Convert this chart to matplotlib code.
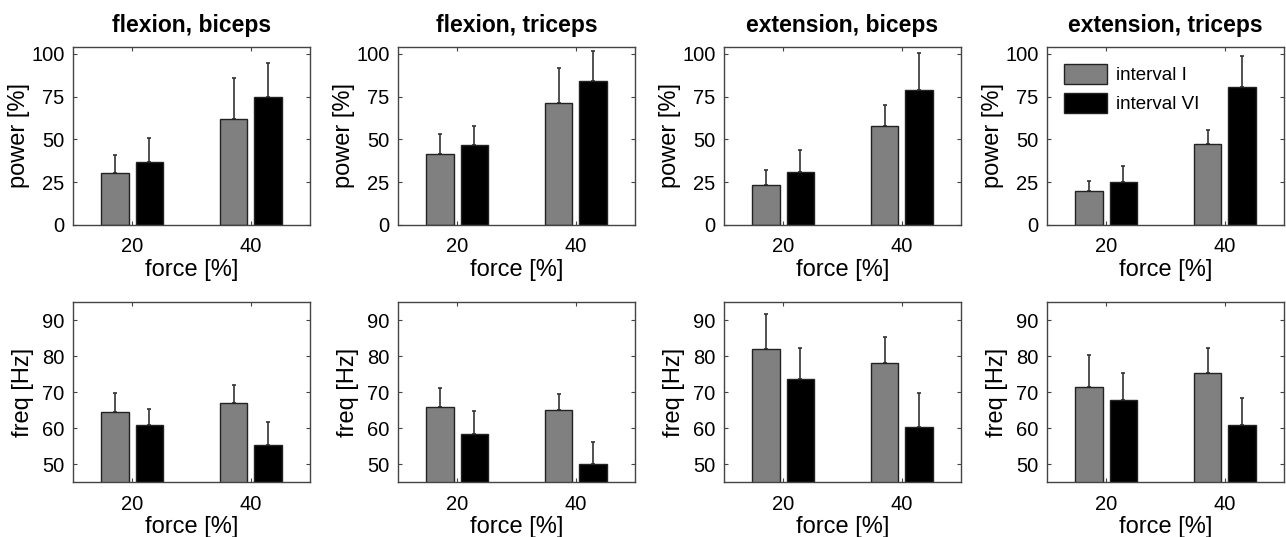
import numpy as np
import matplotlib
matplotlib.use("Agg")
import matplotlib.pyplot as plt

plt.rcParams['font.family'] = ['Liberation Sans', 'DejaVu Sans']

force = ["20", "40"]
titles = ["flexion, biceps", "flexion, triceps", "extension, biceps", "extension, triceps"]
series = ["interval I", "interval VI"]

# power [%] means and upper error bars, per panel: [interval I, interval VI] x [20, 40]
power_mean = [
    [[30.1, 62.1], [36.9, 74.5]],
    [[41.7, 71.5], [46.6, 84.3]],
    [[23.3, 57.7], [30.9, 78.8]],
    [[19.6, 47.6], [25.2, 80.8]],
]
power_sd = [
    [[10.7, 23.9], [14.0, 20.0]],
    [[11.3, 20.3], [11.4, 17.1]],
    [[8.7, 12.4], [12.8, 21.6]],
    [[6.0, 8.1], [9.2, 18.0]],
]
# freq [Hz]
freq_mean = [
    [[64.4, 67.0], [60.7, 55.3]],
    [[65.7, 65.1], [58.4, 50.1]],
    [[81.9, 78.1], [73.5, 60.4]],
    [[71.5, 75.2], [67.8, 60.9]],
]
freq_sd = [
    [[5.4, 5.0], [4.5, 6.4]],
    [[5.4, 4.4], [6.2, 5.9]],
    [[9.8, 7.3], [8.7, 9.3]],
    [[8.9, 6.9], [7.5, 7.4]],
]

colors = ['#808080', '#000000']
W, H = 1286, 537
fig = plt.figure(figsize=(W / 100, H / 100), dpi=100)

lefts = [73, 398, 724, 1047]
width = 237


def draw(ax, mean, sd, ylim, yticks, ylabel, ypad, legend=False):
    x = np.arange(1, len(force) + 1)
    bw = 0.23
    offs = [-0.145, 0.145]
    for k in range(2):
        ax.bar(x + offs[k], mean[k], bw, color=colors[k], edgecolor='#222222',
               linewidth=1, label=series[k], zorder=2)
        ax.errorbar(x + offs[k], mean[k], yerr=[np.zeros(len(x)), sd[k]], fmt='none',
                    ecolor='#333333', elinewidth=1.2, capsize=1.5, capthick=1.2, zorder=1)
    ax.set_xlim(0.5, 2.5)
    ax.set_ylim(*ylim)
    ax.set_xticks(x)
    ax.set_xticklabels(force)
    ax.set_yticks(yticks)
    ax.tick_params(direction='in', top=True, right=True, labelsize=14.5,
                   length=3, width=0.8, color='#444444', pad=6)
    ax.tick_params(axis='x', pad=9)
    for s in ax.spines.values():
        s.set_color('#444444')
        s.set_linewidth(1)
    ax.set_xlabel("force [%]", fontsize=17, labelpad=2)
    ax.set_ylabel(ylabel, fontsize=17, labelpad=ypad)
    if legend:
        ax.legend(loc='upper left', frameon=False, fontsize=13.5, handlelength=2.3,
                  handleheight=1.3, handletextpad=0.5, borderaxespad=0.5, labelspacing=0.45)


for i in range(4):
    ax = fig.add_axes([lefts[i] / W, 1 - 225 / H, width / W, 178 / H])
    draw(ax, power_mean[i], power_sd[i], (0, 104), [0, 25, 50, 75, 100], "power [%]", 1,
         legend=(i == 3))
    ax.set_title(titles[i], fontsize=16.5, fontweight='bold', pad=11)
    ax2 = fig.add_axes([lefts[i] / W, 1 - 482 / H, width / W, 180 / H])
    draw(ax2, freq_mean[i], freq_sd[i], (45, 95), [50, 60, 70, 80, 90], "freq [Hz]", 6)

fig.savefig("out.png", dpi=100)
